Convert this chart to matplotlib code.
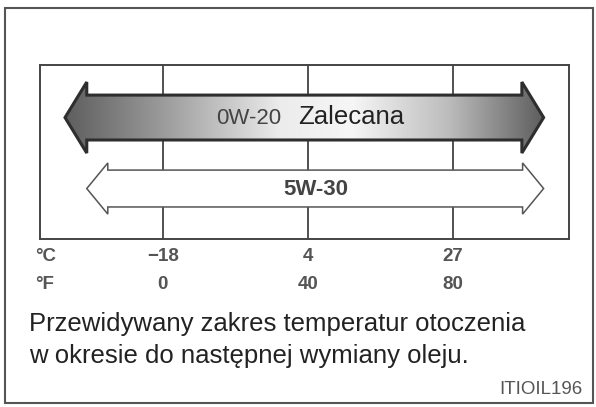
import numpy as np
import matplotlib.pyplot as plt
from matplotlib.patches import Polygon, Rectangle
from matplotlib.colors import LinearSegmentedColormap

plt.rcParams['font.family'] = ['Liberation Sans', 'DejaVu Sans']

# temperature marks (axis runs in Fahrenheit)
temp_f = [0, 40, 80]
temp_c = ["\u221218", "4", "27"]
# oil grades: (label, left tip, right tip) in deg F
grades = [("0W-20", -27, 105), ("5W-30", -21, 105)]
caption = ["Przewidywany zakres temperatur otoczenia",
           "w okresie do następnej wymiany oleju."]
code = "ITIOIL196"


def arrow_points(x0, x1, yc, body, head, head_len):
    return [(x0, yc), (x0 + head_len, yc + head), (x0 + head_len, yc + body),
            (x1 - head_len, yc + body), (x1 - head_len, yc + head), (x1, yc),
            (x1 - head_len, yc - head), (x1 - head_len, yc - body),
            (x0 + head_len, yc - body), (x0 + head_len, yc - head)]


fig = plt.figure(figsize=(5.96, 4.07), dpi=100)

# outer frame
fig.patches.append(Rectangle((0.0084, 0.0098), 0.9866, 0.9705, transform=fig.transFigure,
                             fill=False, edgecolor="#555555", lw=1.5))

ax = fig.add_axes([0.0671, 0.4128, 0.8876, 0.4275])
ax.set_xlim(-33.9, 112)
ax.set_ylim(0, 1)
ax.set_xticks([])
ax.set_yticks([])
for s in ax.spines.values():
    s.set_color("#444444")
    s.set_linewidth(1.4)

for t in temp_f:
    ax.axvline(t, color="#333333", lw=1.2, zorder=1)

# recommended grade: gradient filled arrow
cmap = LinearSegmentedColormap.from_list(
    "grey", [(0, "#5e5e5e"), (0.2, "#9a9a9a"), (0.45, "#ececec"),
             (0.6, "#f6f6f6"), (0.8, "#bdbdbd"), (1, "#5e5e5e")])
lab, x0, x1 = grades[0]
pts = arrow_points(x0, x1, 0.698, 0.129, 0.204, 6.0)
poly = Polygon(pts, closed=True, facecolor="none", edgecolor="#2e2e2e", lw=2.2, zorder=4)
ax.add_patch(poly)
grad = np.linspace(0, 1, 256).reshape(1, -1)
im = ax.imshow(grad, cmap=cmap, extent=[x0, x1, 0.698 - 0.204, 0.698 + 0.204],
               aspect="auto", zorder=3, interpolation="bicubic")
im.set_clip_path(Polygon(pts, closed=True, transform=ax.transData))
ax.text(32.6, 0.693, lab, ha="right", va="center", fontsize=16, color="#444444", zorder=5)
ax.text(37.2, 0.70, "Zalecana", ha="left", va="center", fontsize=18.5, color="#222222", zorder=5)

# second grade: outlined arrow
lab, x0, x1 = grades[1]
pts = arrow_points(x0, x1, 0.290, 0.106, 0.147, 5.8)
ax.add_patch(Polygon(pts, closed=True, facecolor="white", edgecolor="#555555", lw=1.1, zorder=4))
ax.text(42.1, 0.285, lab, ha="center", va="center", fontsize=16, fontweight="bold",
        color="#444444", zorder=5)

# scale labels
lab_kw = dict(va="center", fontsize=13.5, fontweight="bold", color="#555555",
              transform=ax.get_xaxis_transform(), clip_on=False)
ax.text(-35.3, -0.098, "°C", ha="left", **lab_kw)
ax.text(-35.3, -0.264, "°F", ha="left", **lab_kw)
for f, c in zip(temp_f, temp_c):
    ax.text(f, -0.098, c, ha="center", **lab_kw)
    ax.text(f, -0.264, str(f), ha="center", **lab_kw)

fig.text(0.048, 0.1867, caption[0], ha="left", va="baseline", fontsize=18.5, color="#222222")
fig.text(0.048, 0.108, caption[1], ha="left", va="baseline", fontsize=18.5, color="#222222")
fig.text(0.977, 0.0442, code, ha="right", va="center", fontsize=13.5, color="#555555")

fig.savefig("out.png", dpi=100)
